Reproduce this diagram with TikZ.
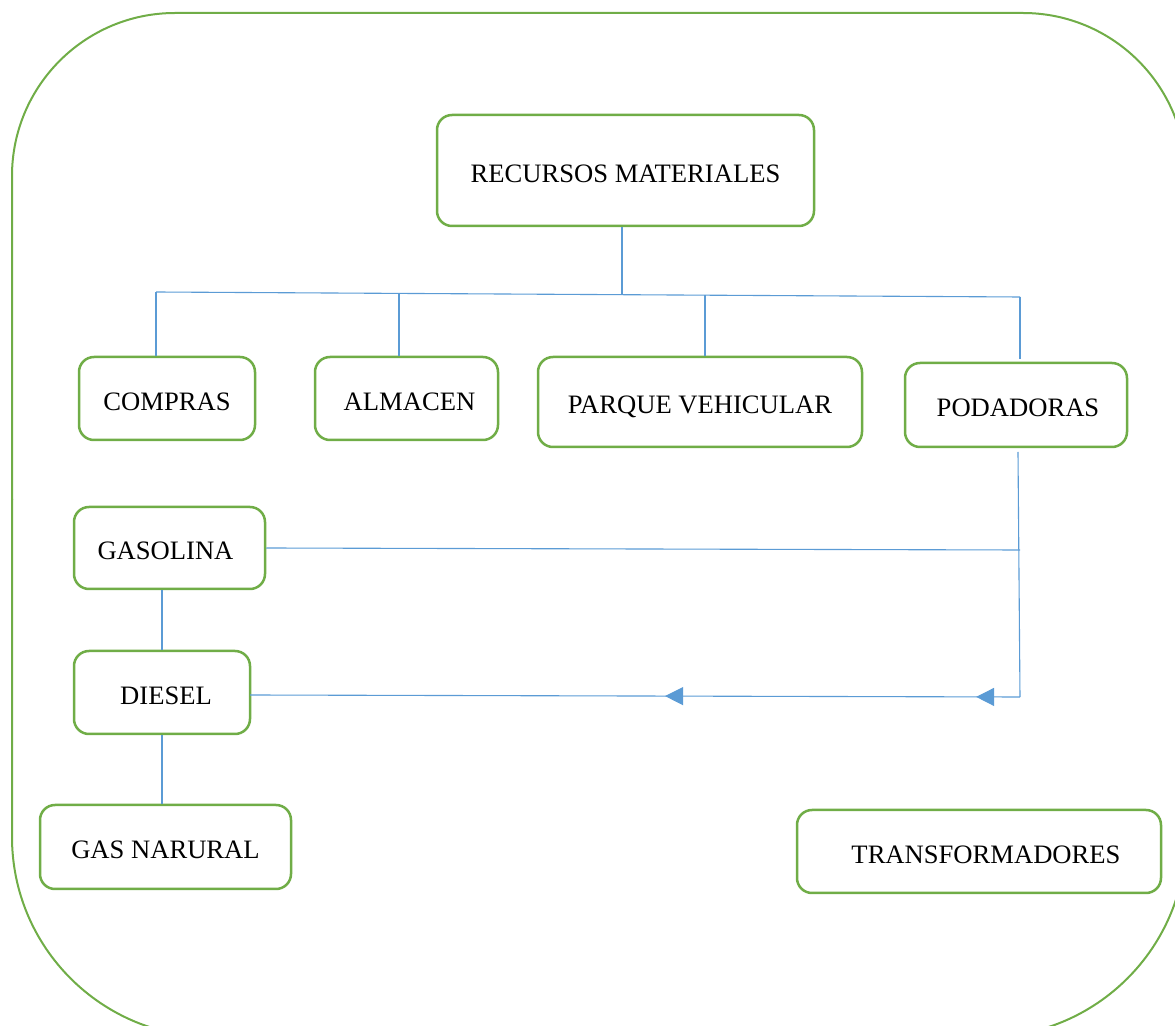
\documentclass[tikz,border=0pt]{standalone}
\usepackage{fontspec}
\setmainfont{Liberation Serif}
\usetikzlibrary{arrows.meta,decorations.markings}
\definecolor{frgreen}{HTML}{70AD47}
\definecolor{lnblue}{HTML}{5B9BD5}
\begin{document}
\begin{tikzpicture}[x=0.5pt,y=-0.5pt,
  box/.style={draw=frgreen,line width=1.25pt,rounded corners=7.5pt,inner sep=0pt,
    font=\fontsize{13.3}{15}\selectfont,text height=11.8pt,text depth=0pt},
  frame/.style={draw=frgreen,line width=1pt},
  conn/.style={draw=lnblue,line width=0.55pt},
  arr/.tip={Triangle[length=9pt,width=9pt]}]
\useasboundingbox (0,0) rectangle (1175,1026);
\begin{scope}
\clip (0,0) rectangle (1175,1026);
\draw[frame,rounded corners=81.5pt] (12,500) -- (12,13) -- (1186,13) -- (1186,500);
\draw[frame,rounded corners=100pt] (1186,499) -- (1186,1037) -- (12,1037) -- (12,499);
\end{scope}

\node[box,minimum width=188.5pt,minimum height=55.5pt] (rec) at (625.5,170.5) {RECURSOS MATERIALES};
\node[box,minimum width=88pt,minimum height=41.5pt] (compras) at (167,398.5) {COMPRAS};
\node[box,minimum width=91.5pt,minimum height=41.5pt] (almacen) at (406.5,398.5) {\hspace*{3pt}ALMACEN};
\node[box,minimum width=162pt,minimum height=45pt] (parque) at (700,402) {PARQUE VEHICULAR};
\node[box,minimum width=111pt,minimum height=42pt] (podadoras) at (1016,405) {\hspace*{2pt}PODADORAS};
\node[box,minimum width=95.5pt,minimum height=41pt] (gasolina) at (169.5,548) {GASOLINA\hspace*{4pt}};
\node[box,minimum width=88pt,minimum height=41.5pt] (diesel) at (162,692.5) {\hspace*{4pt}DIESEL};
\node[box,minimum width=125.5pt,minimum height=42pt] (gas) at (165.5,847) {GAS NARURAL};
\node[box,minimum width=182pt,minimum height=41.5pt] (trans) at (979,851.5) {\hspace*{7pt}TRANSFORMADORES};

% bus
\coordinate (b1) at (156,292);
\coordinate (b2) at (399,293);
\coordinate (bm) at (622,294.5);
\coordinate (b3) at (705,295);
\coordinate (b4) at (1020,297);
\coordinate (b4e) at (1020,359);
\draw[conn] (b1) -- (b4);
\draw[conn] (rec.south -| bm) -- (bm);
\draw[conn] (b1) -- (b1 |- compras.north);
\draw[conn] (b2) -- (b2 |- almacen.north);
\draw[conn] (b3) -- (b3 |- parque.north);
\draw[conn] (b4) -- (b4e);

% right loop
\coordinate (pv) at (1018,452);
\coordinate (corner) at (1020,697);
\coordinate (gE) at (1020,550);
\coordinate (dE) at (250,695);
\draw[conn] (pv) -- (corner);
\draw[conn,postaction={decorate},decoration={markings,
   mark=at position 0.057 with {\arrow[lnblue]{arr}},
   mark=at position 0.461 with {\arrow[lnblue]{arr}}}]
   (corner) -- (dE);
\draw[conn] (gasolina.east) -- (gE);

% left chain
\draw[conn] (gasolina.south -| diesel.north) -- (diesel.north);
\draw[conn] (diesel.south) -- (diesel.south |- gas.north);
\end{tikzpicture}
\end{document}
